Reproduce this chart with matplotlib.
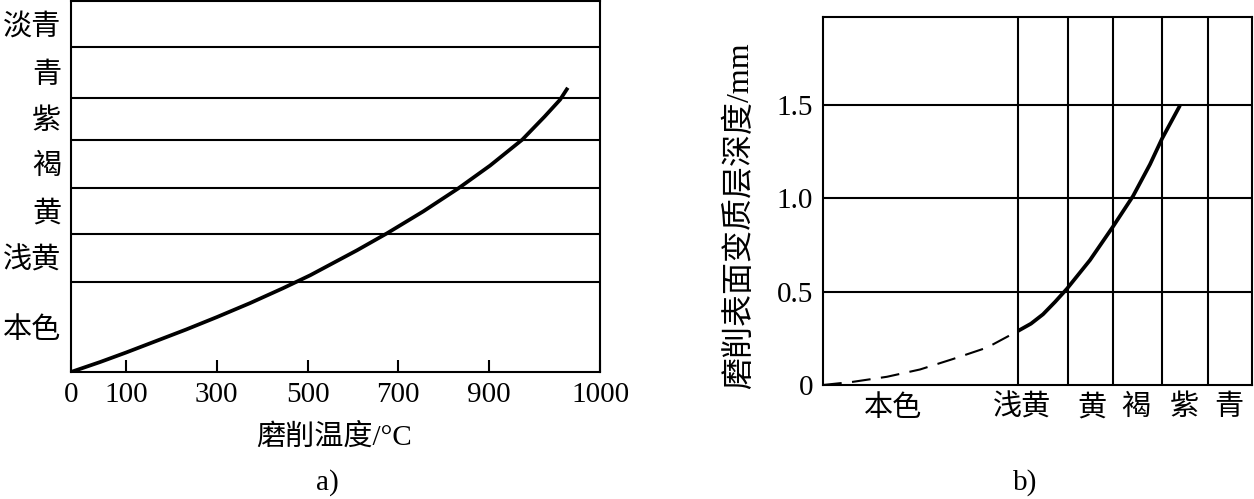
import numpy as np
import matplotlib
matplotlib.use('Agg')
import matplotlib.pyplot as plt

plt.rcParams['font.family'] = ['Liberation Serif', 'Noto Sans CJK SC']
plt.rcParams['font.size'] = 21

# ---- panel a) data : grinding temperature vs temper colour ----
temp_ticks = [0, 100, 300, 500, 700, 900, 1000]
# band edges of the colour scale (bottom -> top), arbitrary level units
band_edges_a = [0, 90, 138, 184, 233, 275, 326, 372]
band_names_a = ['本色', '浅黄', '黄', '褐', '紫', '青', '淡青']
temp_a = [0, 53, 100, 166, 232, 300, 373, 446, 506, 609, 675, 755, 832, 901,
          930, 950, 964, 971]
level_a = [0, 10, 19.5, 31, 42.5, 55, 69, 84, 97, 122, 139, 161, 184, 207,
           233, 256, 273, 285]

# ---- panel b) data : altered layer depth vs colour ----
band_edges_b = [0, 195, 245, 290, 339, 385, 429]
band_names_b = ['本色', '浅黄', '黄', '褐', '紫', '青']
band_label_pos_b = [70, 199, 269, 313, 361, 406]
depth_ticks = [0, 0.5, 1.0, 1.5]
x_dash = [0, 30, 64, 97, 130, 164, 195]
y_dash = [0, 0.017, 0.044, 0.083, 0.139, 0.2, 0.289]
x_solid = [195, 208, 220, 232, 244, 267, 290, 310, 327, 339, 357]
y_solid = [0.289, 0.328, 0.378, 0.444, 0.515, 0.668, 0.847, 1.01, 1.18, 1.317, 1.495]

W, H = 1254, 499
fig = plt.figure(figsize=(W / 100, H / 100), dpi=100)

# axis a) has uneven tick spacing on the original drawing
pix_a = [0, 55, 418, 529]
tval_a = [0, 100, 900, 1000]
def fwd(t):
    return np.interp(t, tval_a, pix_a)
def inv(p):
    return np.interp(p, pix_a, tval_a)

ax1 = fig.add_axes([71 / W, 1 - 372 / H, 529 / W, 371 / H])
ax1.set_xscale('function', functions=(fwd, inv))
ax1.set_xlim(0, 1000)
ax1.set_ylim(band_edges_a[0], band_edges_a[-1])
for e in band_edges_a[1:-1]:
    ax1.axhline(e, color='black', lw=1.5)
ax1.plot(temp_a, level_a, color='black', lw=2.7, solid_capstyle='butt')
ax1.set_xticks(temp_ticks)
ax1.set_xticklabels([str(t) for t in temp_ticks])
ax1.tick_params(axis='x', direction='in', length=8.5, width=1.5, pad=7)
centers_a = [(band_edges_a[i] + band_edges_a[i + 1]) / 2 for i in range(len(band_names_a))]
ax1.set_yticks(centers_a)
ax1.set_yticklabels(band_names_a)
ax1.tick_params(axis='y', length=0, pad=7)
for s in ax1.spines.values():
    s.set_linewidth(1.5)
fig.text(334 / W, 1 - 437 / H, '磨削温度/°C', ha='center', va='center')
fig.text(327 / W, 1 - 483 / H, 'a)', ha='center', va='center')

# ---- panel b) ----
ax2 = fig.add_axes([823 / W, 1 - 385 / H, 429 / W, 368 / H])
ax2.set_xlim(band_edges_b[0], band_edges_b[-1])
ax2.set_ylim(0, 1.968)
for e in band_edges_b[1:-1]:
    ax2.axvline(e, color='black', lw=1.5)
for d in depth_ticks[1:]:
    ax2.axhline(d, color='black', lw=1.5)
ax2.plot(x_dash, y_dash, color='black', lw=1.5, ls=(0, (9, 5)))
ax2.plot(x_solid, y_solid, color='black', lw=2.7, solid_capstyle='butt')
ax2.set_yticks(depth_ticks)
ax2.set_yticklabels(['0', '0.5', '1.0', '1.5'])
ax2.set_xticks(band_label_pos_b)
ax2.set_xticklabels(band_names_b)
ax2.tick_params(length=0, pad=7)
for s in ax2.spines.values():
    s.set_linewidth(1.5)
ax2.set_ylabel('磨削表面变质层深度/mm', fontsize=23)
ax2.yaxis.set_label_coords(-0.158, 0.46)
fig.text(1025 / W, 1 - 483 / H, 'b)', ha='center', va='center')

fig.savefig('out.png', dpi=100)
